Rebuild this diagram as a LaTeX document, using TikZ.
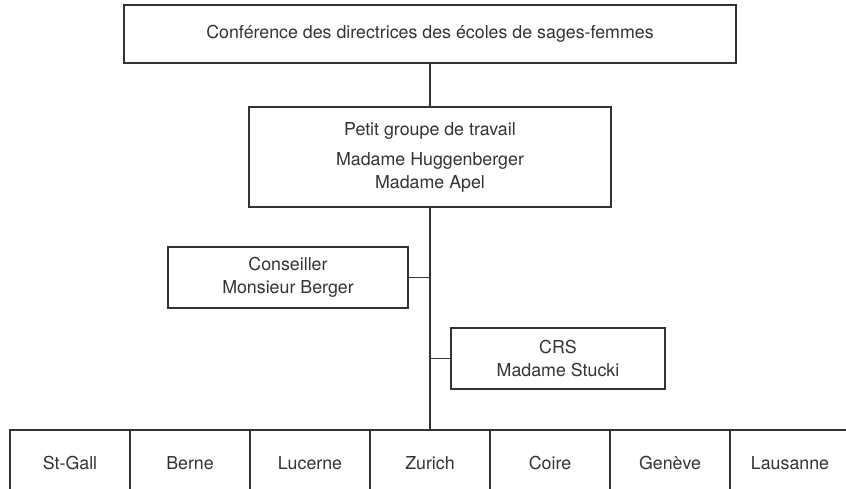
\documentclass[tikz,border=0pt]{standalone}
\usepackage{fontspec}
\setmainfont{TeX Gyre Heros}
\begin{document}
\begin{tikzpicture}[x=1pt,y=-1pt,
  box/.style={draw=black!80, line width=1.2pt, rectangle, inner sep=0pt, anchor=center, align=center, font=\fontsize{17.8}{23}\selectfont, text=black!80},
  link/.style={draw=black!80, line width=1.2pt}]
\useasboundingbox (0,0) rectangle (846,488);
\clip (0,0) rectangle (846,488);
\node[box, minimum width=612pt, minimum height=58pt] (top) at (430,34) {Conférence des directrices des écoles de sages-femmes};
\node[box, minimum width=362pt, minimum height=100pt] (mid) at (430,157) {Petit groupe de travail\\[7pt] Madame Huggenberger\\ Madame Apel};
\node[box, minimum width=240pt, minimum height=61pt] (cons) at (288,277.5) {Conseiller\\ Monsieur Berger};
\node[box, minimum width=214pt, minimum height=61pt] (crs) at (558,358.5) {CRS\\ Madame Stucki};
\foreach \n/\t [count=\i from 0] in {sg/St-Gall, be/Berne, lu/Lucerne, zh/Zurich, co/Coire, ge/Genève, la/Lausanne}{
  \node[box, minimum width=120pt, minimum height=66pt, text depth=0pt] (\n) at ({70+120*\i},463) {\raisebox{0pt}[0pt][0pt]{\t}\vphantom{Ag}};
}
\draw[link] (top.south) -- (mid.north);
\draw[link] (mid.south) -- (zh.north);
\draw[link] (cons.east) -- (cons.east -| mid.south);
\draw[link] (crs.west) -- (crs.west -| mid.south);
\end{tikzpicture}
\end{document}
